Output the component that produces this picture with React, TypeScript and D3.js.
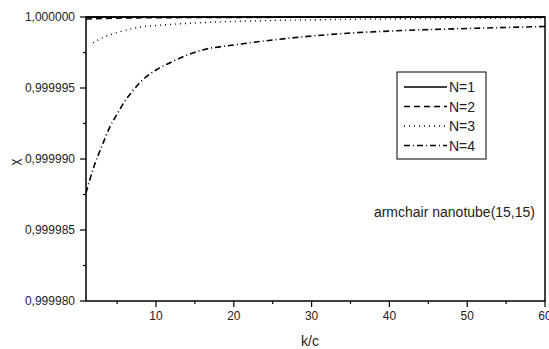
import { scaleLinear, line, curveMonotoneX } from "d3";

// k/c sample points and chi values
const k4 = [1, 2, 3, 4, 5, 6, 7, 8, 10, 12, 14, 16, 20, 25, 30, 35, 40, 50, 60];
const chi4 = [
    0.99998761, 0.99998944, 0.99999085, 0.99999218, 0.99999317, 0.99999408,
    0.99999479, 0.99999542, 0.99999627, 0.99999683, 0.99999732, 0.99999768,
    0.99999803, 0.99999838, 0.99999866, 0.99999887, 0.99999901, 0.99999919,
    0.99999933,
];

const k3 = [1.9, 3, 4, 6, 8, 10, 15, 22, 30, 35, 45, 60];
const chi3 = [
    0.99999817, 0.99999852, 0.99999873, 0.99999905, 0.9999993, 0.9999994,
    0.99999958, 0.99999972, 0.9999998, 0.99999984, 0.99999989, 0.99999992,
];

const k2 = [1, 3, 6, 10, 20, 40, 60];
const chi2 = [0.99999986, 0.99999989, 0.99999993, 0.99999995, 0.99999997, 0.99999999, 0.99999999];

const k1 = [1, 5, 20, 60];
const chi1 = [0.99999999, 1, 1, 1];

const xTicks = [10, 20, 30, 40, 50, 60];
const xMinor = [5, 15, 25, 35, 45, 55];
const yTicks = [0.99998, 0.999985, 0.99999, 0.999995, 1.0];
const yMinor = [0.9999825, 0.9999875, 0.9999925, 0.9999975];

const legendLabels = ["N=1", "N=2", "N=3", "N=4"];
const dashes = ["none", "6,4", "1,4", "6,3,1,3"];

export default function App() {
    const width = 549;
    const height = 349;
    const left = 86;
    const right = 545;
    const top = 17;
    const bottom = 301;

    const x = scaleLinear([1, 60], [left, right]);
    const y = scaleLinear([0.99998, 1.0], [bottom, top]);

    const mk = (ks: number[], vs: number[]) =>
        line<number>((_, i) => x(ks[i]), (d) => y(d)).curve(curveMonotoneX)(vs) || "";

    const series = [
        { ks: k1, vs: chi1, width: 1.6 },
        { ks: k2, vs: chi2, width: 1.6 },
        { ks: k3, vs: chi3, width: 1.4 },
        { ks: k4, vs: chi4, width: 1.6 },
    ];

    const font = "Liberation Sans, Arial, sans-serif";

    return (
        <svg
            width={width}
            height={height}
            style={{ position: "absolute", left: 0, top: 0, background: "#fff" }}
            fontFamily={font}
        >
            <defs>
                <clipPath id="plot">
                    <rect x={left} y={top - 1} width={right - left} height={bottom - top + 1} />
                </clipPath>
            </defs>
            <g clipPath="url(#plot)">
                {series.map((s, i) => (
                    <path
                        key={i}
                        d={mk(s.ks, s.vs)}
                        fill="none"
                        stroke="#000"
                        strokeWidth={s.width}
                        strokeDasharray={dashes[i]}
                    />
                ))}
            </g>
            <rect
                x={left}
                y={top}
                width={right - left}
                height={bottom - top}
                fill="none"
                stroke="#000"
                strokeWidth={1.5}
            />
            {yTicks.map((t) => (
                <g key={t}>
                    <line x1={left - 6} x2={left} y1={y(t)} y2={y(t)} stroke="#000" strokeWidth={1.2} />
                    <text x={left - 11} y={y(t)} dy="0.35em" textAnchor="end" fontSize={12} fill="#222">
                        {t.toFixed(6).replace(".", ",")}
                    </text>
                </g>
            ))}
            {yMinor.map((t) => (
                <line key={t} x1={left - 3} x2={left} y1={y(t)} y2={y(t)} stroke="#000" strokeWidth={1.2} />
            ))}
            {xTicks.map((t) => (
                <g key={t}>
                    <line x1={x(t)} x2={x(t)} y1={bottom} y2={bottom + 6} stroke="#000" strokeWidth={1.2} />
                    <text x={x(t)} y={bottom + 19} textAnchor="middle" fontSize={12} fill="#222">
                        {t}
                    </text>
                </g>
            ))}
            {xMinor.map((t) => (
                <line key={t} x1={x(t)} x2={x(t)} y1={bottom} y2={bottom + 3} stroke="#000" strokeWidth={1.2} />
            ))}
            <text x={310} y={346} textAnchor="middle" fontSize={14} fill="#222">
                k/c
            </text>
            <text
                transform="translate(19,162) rotate(-90)"
                textAnchor="middle"
                fontSize={13}
                fill="#222"
            >
                χ
            </text>
            <rect x={397} y={72} width={89} height={87} fill="#fff" stroke="#000" strokeWidth={1} />
            {legendLabels.map((lab, i) => {
                const ly = 87 + i * 19.5;
                return (
                    <g key={lab}>
                        <line
                            x1={404}
                            x2={447}
                            y1={ly}
                            y2={ly}
                            stroke="#000"
                            strokeWidth={1.5}
                            strokeDasharray={dashes[i]}
                        />
                        <text x={449} y={ly} dy="0.36em" fontSize={14} fill="#222">
                            {lab}
                        </text>
                    </g>
                );
            })}
            <text x={535} y={212} dy="0.36em" textAnchor="end" fontSize={14} fill="#222">
                armchair nanotube(15,15)
            </text>
        </svg>
    );
}
